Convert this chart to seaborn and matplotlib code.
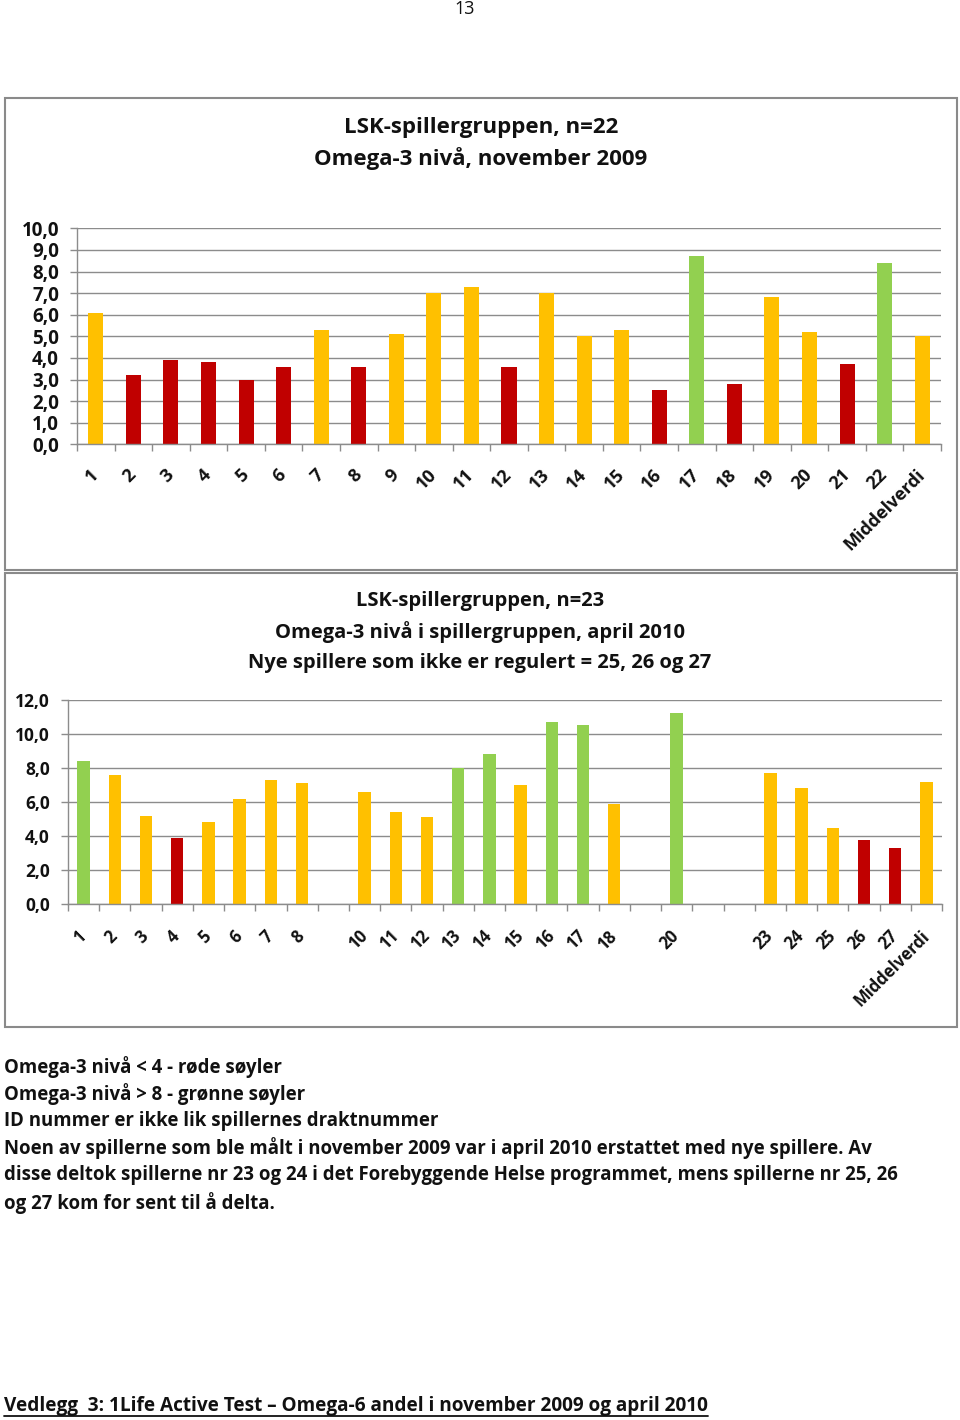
import matplotlib
matplotlib.use("Agg")
import matplotlib.pyplot as plt
import seaborn as sns
import pandas as pd
import numpy as np
from matplotlib.patches import Rectangle
from matplotlib.lines import Line2D

sns.set_theme(style="white")
plt.rcParams['font.family'] = ['Open Sans', 'DejaVu Sans']

# ---------------- data ----------------
nov_ids = [str(i) for i in range(1, 23)] + ["Middelverdi"]
nov_labels = [str(i) for i in range(1, 23)] + ["Middelverdi"]
nov_values = [6.1, 3.2, 3.9, 3.8, 3.0, 3.6, 5.3, 3.6, 5.1, 7.0, 7.3, 3.6,
              7.0, 5.0, 5.3, 2.5, 8.7, 2.8, 6.8, 5.2, 3.7, 8.4, 5.0]
nov_yticks = [0, 1, 2, 3, 4, 5, 6, 7, 8, 9, 10]
nov_yticklabels = ["0,0", "1,0", "2,0", "3,0", "4,0", "5,0", "6,0", "7,0", "8,0", "9,0", "10,0"]

apr_ids = [str(i) for i in range(1, 28)] + ["Middelverdi"]
apr_labels = ["1", "2", "3", "4", "5", "6", "7", "8", "", "10", "11", "12", "13",
              "14", "15", "16", "17", "18", "", "20", "", "", "23", "24", "25",
              "26", "27", "Middelverdi"]
apr_values = [8.4, 7.6, 5.2, 3.9, 4.8, 6.2, 7.3, 7.1, np.nan, 6.6, 5.4, 5.1, 8.0,
              8.8, 7.0, 10.7, 10.5, 5.9, np.nan, 11.2, np.nan, np.nan, 7.7, 6.8,
              4.5, 3.8, 3.3, 7.2]
apr_yticks = [0, 2, 4, 6, 8, 10, 12]
apr_yticklabels = ["0,0", "2,0", "4,0", "6,0", "8,0", "10,0", "12,0"]

title_nov = ["LSK-spillergruppen, n=22", "Omega-3 nivå, november 2009"]
title_apr = ["LSK-spillergruppen, n=23", "Omega-3 nivå i spillergruppen, april 2010",
             "Nye spillere som ikke er regulert = 25, 26 og 27"]
notes = ["Omega-3 nivå < 4 - røde søyler",
         "Omega-3 nivå > 8 - grønne søyler",
         "ID nummer er ikke lik spillernes draktnummer",
         "Noen av spillerne som ble målt i november 2009 var i april 2010 erstattet med nye spillere. Av",
         "disse deltok spillerne nr 23 og 24 i det Forebyggende Helse programmet, mens spillerne nr 25, 26",
         "og 27 kom for sent til å delta."]
footer = "Vedlegg  3: 1Life Active Test – Omega-6 andel i november 2009 og april 2010"
page_no = "13"

RED, YELLOW, GREEN = "#C00000", "#FFC000", "#92D050"
GRID = "#8c8c8c"
TXT = "#111111"


def colour(v):
    if np.isnan(v):
        return YELLOW
    if v < 4:
        return RED
    if v >= 8:
        return GREEN
    return YELLOW


W, H = 960, 1420
fig = plt.figure(figsize=(W / 100, H / 100), dpi=100)


def fx(x):
    return x / W


def fy(y):
    return 1 - y / H


def draw_chart(ax, ids, labels, values, yticks, yticklabels, xpad, yfs, xfs):
    df = pd.DataFrame({"id": ids, "value": values})
    pal = {i: colour(v) for i, v in zip(ids, values)}
    sns.barplot(data=df, x="id", y="value", hue="id", palette=pal, order=ids,
                hue_order=ids, width=0.4, dodge=False, legend=False,
                saturation=1, linewidth=0, ax=ax)
    n = len(ids)
    ax.set_xlim(-0.5, n - 0.5)
    ax.set_ylim(yticks[0], yticks[-1])
    ax.set_yticks(yticks)
    ax.set_yticklabels(yticklabels, fontsize=yfs, fontweight="bold", color=TXT)
    ax.set_xticks(range(n))
    ax.set_xticklabels(labels, rotation=45, ha="right", va="center",
                       rotation_mode="anchor", fontsize=xfs, fontweight="bold", color=TXT)
    ax.set_xticks(np.arange(-0.5, n, 1.0), minor=True)
    ax.tick_params(axis="x", which="major", length=0, pad=xpad)
    ax.tick_params(axis="x", which="minor", length=5, color=GRID, width=1,
                   direction="out", bottom=True)
    ax.tick_params(axis="y", which="major", length=5, color=GRID, width=1,
                   direction="out", left=True, pad=8)
    ax.set_xlabel("")
    ax.set_ylabel("")
    ax.yaxis.grid(True, color=GRID, lw=1)
    ax.xaxis.grid(False)
    ax.set_axisbelow(True)
    for s in ["top", "right"]:
        ax.spines[s].set_visible(False)
    for s in ["left", "bottom"]:
        ax.spines[s].set_color(GRID)
        ax.spines[s].set_linewidth(1)
    ax.set_facecolor("white")


# chart frames
fig.add_artist(Rectangle((fx(5), fy(570)), fx(952), 472 / H, transform=fig.transFigure,
                         fill=False, ec="#8a8a8a", lw=1.5))
fig.add_artist(Rectangle((fx(5), fy(1027)), fx(952), 454 / H, transform=fig.transFigure,
                         fill=False, ec="#8a8a8a", lw=1.5))

ax1 = fig.add_axes([fx(77), fy(444.3), fx(864), (444.3 - 228.3) / H])
draw_chart(ax1, nov_ids, nov_labels, nov_values, nov_yticks, nov_yticklabels, 20, 13.5, 13)

ax2 = fig.add_axes([fx(68), fy(904.3), fx(874), (904.3 - 699.7) / H])
draw_chart(ax2, apr_ids, apr_labels, apr_values, apr_yticks, apr_yticklabels, 21, 12.5, 12)

# titles
for line, y in zip(title_nov, [127, 159]):
    fig.text(fx(481), fy(y), line, ha="center", va="center", fontsize=16,
             fontweight="bold", color=TXT)
for line, y in zip(title_apr, [601, 632, 663]):
    fig.text(fx(480), fy(y), line, ha="center", va="center", fontsize=14.5,
             fontweight="bold", color=TXT)

# page number
fig.text(fx(465), fy(9), page_no, ha="center", va="center", fontsize=13, color=TXT)

# notes
for line, y in zip(notes, [1067, 1094, 1121, 1148, 1175, 1203]):
    fig.text(fx(4), fy(y), line, ha="left", va="center", fontsize=13.45,
             fontweight="bold", color=TXT)

# footer with underline
ft = fig.text(fx(4), fy(1406), footer, ha="left", va="center", fontsize=13.7,
              fontweight="bold", color=TXT)
fig.canvas.draw()
bb = ft.get_window_extent()
fig.add_artist(Line2D([bb.x0 / W, bb.x1 / W], [fy(1416), fy(1416)],
                      transform=fig.transFigure, color=TXT, lw=1.3))

fig.savefig("out.png", dpi=100, facecolor="white")
